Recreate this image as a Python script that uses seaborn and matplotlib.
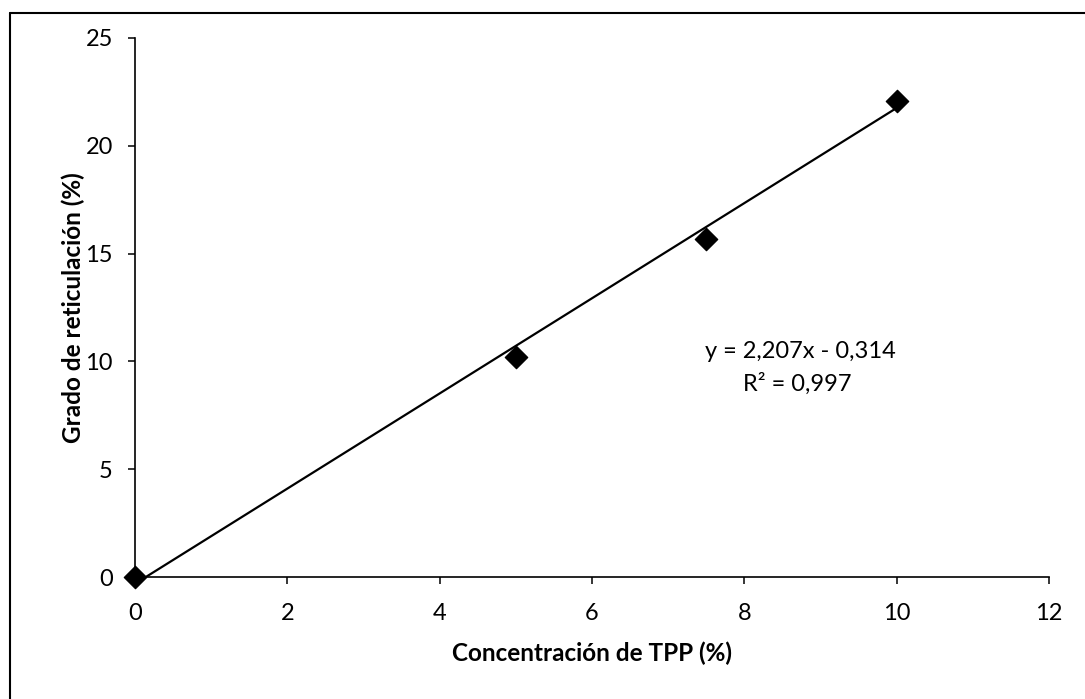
import matplotlib
matplotlib.use("Agg")
import matplotlib.pyplot as plt
from matplotlib.lines import Line2D
import numpy as np
import pandas as pd
import seaborn as sns

# Data
concentracion = [0, 5, 7.5, 10]
reticulacion = [0, 10.2, 15.7, 22.1]
slope = 2.207
intercept = -0.314
r2 = 0.997
x_ticks = [0, 2, 4, 6, 8, 10, 12]
y_ticks = [0, 5, 10, 15, 20, 25]

sns.set_theme(style="white")
plt.rcParams['font.family'] = ['Lato', 'DejaVu Sans']

df = pd.DataFrame({"x": concentracion, "y": reticulacion})

fig = plt.figure(figsize=(10.85, 6.99), dpi=100)
ax = fig.add_axes([135/1085, 1-577/699, (1049-135)/1085, (577-38)/699])

# trend line
xl = np.array([min(concentracion), max(concentracion)])
fit = pd.DataFrame({"x": xl, "y": slope*xl + intercept})
sns.lineplot(data=fit, x="x", y="y", ax=ax, color="black", linewidth=1.6)
sns.scatterplot(data=df, x="x", y="y", ax=ax, marker="D", s=130,
                color="black", edgecolor="black", zorder=5, clip_on=False)

ax.set_xlim(0, 12)
ax.set_ylim(0, 25)
ax.set_xticks(x_ticks)
ax.set_yticks(y_ticks)
ax.set_xticklabels([str(t) for t in x_ticks])
ax.set_yticklabels([str(t) for t in y_ticks])
for s in ["top", "right"]:
    ax.spines[s].set_visible(False)
for s in ["left", "bottom"]:
    ax.spines[s].set_color("black")
    ax.spines[s].set_linewidth(1.2)
ax.tick_params(axis="both", direction="out", length=5, width=1.1,
               colors="black", labelsize=17, bottom=True, left=True)
ax.tick_params(axis="y", pad=11)
ax.tick_params(axis="x", pad=14)
ax.set_xlabel("Concentración de TPP (%)", fontsize=17.5, fontweight="bold",
              color="black", labelpad=12)
ax.set_ylabel("Grado de reticulación (%)", fontsize=17.5, fontweight="bold",
              color="black", labelpad=0)
ax.grid(False)

fig.text(800/1085, 1-352/699,
         f"y = {slope:.3f}x - {-intercept:.3f}".replace(".", ","),
         fontsize=17, ha="center", va="center", color="black")
fig.text(797/1085, 1-384/699, "R² = " + f"{r2:.3f}".replace(".", ","),
         fontsize=17, ha="center", va="center", color="black")

# figure frame (left and top edges visible)
fig.add_artist(Line2D([10/1085, 10/1085], [0, 1-13/699], color="black", lw=1.5))
fig.add_artist(Line2D([10/1085, 1], [1-13/699, 1-13/699], color="black", lw=1.5))

fig.savefig("out.png", dpi=100)
